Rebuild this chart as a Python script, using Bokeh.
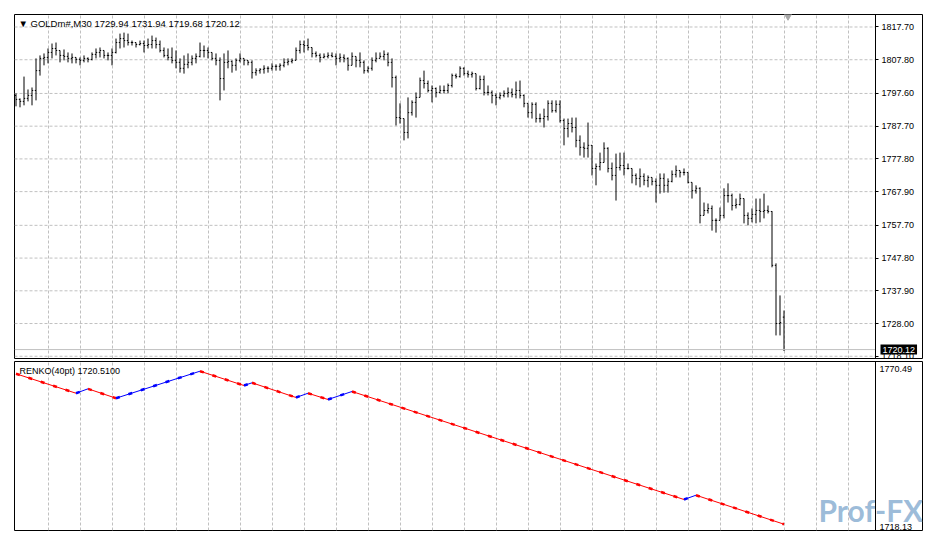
from bokeh.plotting import figure
from bokeh.layouts import column
from bokeh.models import FixedTicker, PrintfTickFormatter, Range1d, Label, ColumnDataSource
from bokeh.embed import file_html
from bokeh.resources import INLINE

symbol = "GOLDm#,M30"

opens = [
    1797.0, 1795.8, 1795.2, 1796.1, 1797.0, 1798.5, 1804.5, 1808.2, 1808.5, 1810.0,
    1811.2, 1810.6, 1809.1, 1808.8, 1808.2, 1808.5, 1807.9, 1807.6, 1808.2, 1807.9,
    1809.4, 1810.0, 1810.6, 1809.1, 1809.1, 1810.0, 1813.0, 1814.2, 1813.6, 1813.0,
    1813.0, 1812.4, 1812.7, 1812.1, 1812.4, 1813.6, 1812.4, 1810.6, 1809.1, 1808.5,
    1807.6, 1807.0, 1805.2, 1806.4, 1807.0, 1808.2, 1808.8, 1810.6, 1810.6, 1810.0,
    1808.2, 1807.6, 1802.1, 1807.0, 1807.3, 1806.1, 1807.6, 1808.2, 1807.6, 1807.0,
    1803.9, 1804.5, 1804.9, 1805.2, 1805.2, 1805.8, 1805.8, 1806.1, 1807.0, 1807.3,
    1807.6, 1810.6, 1812.4, 1812.1, 1811.5, 1809.7, 1809.1, 1808.5, 1808.8, 1809.1,
    1808.8, 1808.2, 1808.5, 1808.2, 1806.1, 1808.8, 1807.6, 1807.0, 1804.5, 1805.2,
    1807.6, 1808.2, 1808.8, 1809.4, 1807.0, 1802.4, 1790.3, 1790.0, 1785.8, 1791.8,
    1794.9, 1796.4, 1801.5, 1800.6, 1798.5, 1799.1, 1797.9, 1798.5, 1798.5, 1800.0,
    1803.0, 1802.7, 1805.2, 1803.6, 1803.3, 1803.6, 1799.1, 1801.8, 1797.9, 1797.9,
    1797.0, 1796.4, 1797.0, 1797.6, 1797.9, 1797.3, 1798.5, 1797.0, 1794.6, 1791.8,
    1794.3, 1790.0, 1790.0, 1790.6, 1794.6, 1792.4, 1794.3, 1789.4, 1787.0, 1788.5,
    1787.3, 1783.4, 1781.3, 1781.0, 1781.9, 1774.9, 1775.5, 1776.7, 1781.0, 1774.9,
    1772.8, 1775.2, 1775.8, 1774.9, 1774.9, 1772.8, 1771.9, 1772.5, 1771.3, 1772.2,
    1771.0, 1769.8, 1771.9, 1769.8, 1771.0, 1773.1, 1774.3, 1773.7, 1773.7, 1770.7,
    1768.2, 1768.9, 1760.7, 1762.2, 1762.8, 1759.2, 1759.2, 1760.7, 1766.7, 1766.7,
    1763.7, 1764.0, 1765.8, 1760.7, 1759.8, 1761.0, 1762.2, 1761.9, 1762.2, 1761.9,
    1745.6, 1728.0, 1729.94,
]

highs = [
    1797.6, 1796.1, 1802.7, 1798.8, 1799.4, 1808.2, 1809.1, 1809.7, 1811.2, 1812.7,
    1813.0, 1810.6, 1810.9, 1810.0, 1809.7, 1808.5, 1808.5, 1809.1, 1808.5, 1810.0,
    1811.2, 1811.5, 1810.6, 1810.0, 1811.2, 1814.2, 1815.7, 1816.0, 1815.7, 1813.6,
    1813.0, 1813.6, 1813.6, 1814.2, 1815.1, 1814.5, 1813.6, 1811.5, 1811.2, 1811.5,
    1810.6, 1808.2, 1809.1, 1809.7, 1809.1, 1809.7, 1813.0, 1812.1, 1811.5, 1810.0,
    1809.7, 1808.5, 1809.7, 1810.6, 1807.6, 1808.2, 1809.7, 1808.2, 1807.6, 1807.6,
    1805.2, 1805.2, 1806.1, 1805.8, 1806.7, 1806.4, 1806.7, 1808.2, 1808.2, 1808.2,
    1811.5, 1813.6, 1813.6, 1814.2, 1811.5, 1810.3, 1809.7, 1809.7, 1810.0, 1810.0,
    1809.7, 1809.7, 1809.4, 1808.5, 1810.0, 1808.8, 1810.0, 1807.6, 1805.8, 1808.5,
    1810.0, 1810.0, 1810.6, 1810.0, 1808.2, 1803.0, 1794.6, 1790.0, 1796.4, 1795.5,
    1797.9, 1802.4, 1804.5, 1801.5, 1800.0, 1799.4, 1800.0, 1800.0, 1800.6, 1803.6,
    1803.6, 1805.8, 1805.5, 1804.5, 1804.2, 1803.6, 1803.0, 1803.0, 1800.0, 1798.5,
    1797.6, 1797.9, 1798.5, 1799.4, 1799.1, 1801.2, 1801.5, 1797.3, 1794.6, 1794.9,
    1794.9, 1791.5, 1793.0, 1795.5, 1795.5, 1795.5, 1795.5, 1790.0, 1790.0, 1790.3,
    1790.3, 1784.9, 1782.8, 1788.8, 1782.0, 1776.4, 1779.7, 1782.8, 1781.3, 1776.7,
    1779.4, 1779.7, 1779.7, 1776.4, 1774.9, 1773.4, 1774.9, 1773.4, 1772.8, 1772.2,
    1771.9, 1773.4, 1773.4, 1771.9, 1774.3, 1775.8, 1774.3, 1774.9, 1773.7, 1770.7,
    1769.8, 1769.2, 1764.6, 1764.3, 1763.7, 1759.8, 1763.1, 1768.9, 1770.4, 1767.3,
    1765.8, 1767.3, 1765.8, 1761.6, 1762.8, 1765.8, 1765.8, 1767.3, 1763.7, 1762.0,
    1746.2, 1736.5, 1731.94,
]

lows = [
    1793.7, 1793.4, 1794.0, 1795.2, 1794.0, 1795.5, 1803.0, 1806.1, 1806.7, 1808.2,
    1809.1, 1807.0, 1807.6, 1807.0, 1806.7, 1806.7, 1806.1, 1807.0, 1807.0, 1807.6,
    1808.2, 1808.5, 1808.2, 1807.6, 1806.1, 1809.7, 1811.2, 1811.5, 1812.1, 1812.1,
    1811.5, 1812.1, 1810.0, 1811.2, 1811.2, 1811.2, 1810.0, 1808.5, 1807.6, 1806.7,
    1805.2, 1803.9, 1803.6, 1805.2, 1806.1, 1806.7, 1808.5, 1808.5, 1808.2, 1807.6,
    1806.1, 1795.5, 1798.5, 1805.2, 1803.9, 1804.5, 1807.0, 1806.1, 1806.1, 1802.1,
    1803.0, 1803.6, 1803.6, 1803.9, 1804.5, 1804.5, 1804.5, 1805.5, 1806.1, 1806.7,
    1807.6, 1809.7, 1810.0, 1810.6, 1808.5, 1808.5, 1807.0, 1808.2, 1808.2, 1808.5,
    1806.1, 1807.0, 1807.0, 1804.5, 1806.1, 1805.5, 1805.5, 1803.6, 1803.9, 1804.5,
    1807.0, 1808.2, 1807.6, 1805.8, 1799.4, 1787.9, 1788.5, 1783.4, 1784.0, 1790.9,
    1790.3, 1796.4, 1799.1, 1797.9, 1794.9, 1796.4, 1797.6, 1797.6, 1797.6, 1799.4,
    1802.1, 1802.4, 1803.0, 1802.4, 1802.4, 1798.5, 1798.8, 1797.0, 1797.0, 1794.6,
    1794.0, 1795.8, 1796.4, 1796.4, 1796.4, 1796.1, 1796.1, 1793.4, 1790.3, 1790.0,
    1788.8, 1788.8, 1787.3, 1789.4, 1791.8, 1791.8, 1788.8, 1781.9, 1784.3, 1785.8,
    1781.3, 1778.8, 1778.2, 1778.2, 1772.8, 1769.8, 1774.3, 1776.7, 1773.7, 1771.3,
    1765.2, 1774.3, 1772.8, 1774.6, 1770.4, 1769.8, 1769.2, 1769.8, 1769.2, 1769.8,
    1764.6, 1767.3, 1767.6, 1767.6, 1770.7, 1772.2, 1772.2, 1772.8, 1770.4, 1765.8,
    1767.3, 1758.3, 1760.7, 1761.3, 1756.1, 1755.5, 1759.2, 1759.8, 1764.6, 1762.2,
    1762.8, 1763.7, 1758.3, 1757.7, 1758.6, 1758.3, 1758.6, 1759.8, 1761.3, 1745.0,
    1724.4, 1724.4, 1719.68,
]

closes = [
    1795.8, 1795.2, 1796.1, 1797.0, 1798.5, 1804.5, 1808.2, 1808.5, 1810.0, 1811.2,
    1810.6, 1809.1, 1808.8, 1808.2, 1808.5, 1807.9, 1807.6, 1808.2, 1807.9, 1809.4,
    1810.0, 1810.6, 1809.1, 1809.1, 1810.0, 1813.0, 1814.2, 1813.6, 1813.0, 1813.0,
    1812.4, 1812.7, 1812.1, 1812.4, 1813.6, 1812.4, 1810.6, 1809.1, 1808.5, 1807.6,
    1807.0, 1805.2, 1806.4, 1807.0, 1808.2, 1808.8, 1810.6, 1810.6, 1810.0, 1808.2,
    1807.6, 1802.1, 1807.0, 1807.3, 1806.1, 1807.6, 1808.2, 1807.6, 1807.0, 1803.9,
    1804.5, 1804.9, 1805.2, 1805.2, 1805.8, 1805.8, 1806.1, 1807.0, 1807.3, 1807.6,
    1810.6, 1812.4, 1812.1, 1811.5, 1809.7, 1809.1, 1808.5, 1808.8, 1809.1, 1808.8,
    1808.2, 1808.5, 1808.2, 1806.1, 1808.8, 1807.6, 1807.0, 1804.5, 1805.2, 1807.6,
    1808.2, 1808.8, 1809.4, 1807.0, 1802.4, 1790.3, 1790.0, 1785.8, 1791.8, 1794.9,
    1796.4, 1801.5, 1800.6, 1798.5, 1799.1, 1797.9, 1798.5, 1798.5, 1800.0, 1803.0,
    1802.7, 1805.2, 1803.6, 1803.3, 1803.6, 1799.1, 1801.8, 1797.9, 1797.9, 1797.0,
    1796.4, 1797.0, 1797.6, 1797.9, 1797.3, 1798.5, 1797.0, 1794.6, 1791.8, 1794.3,
    1790.0, 1790.0, 1790.6, 1794.6, 1792.4, 1794.3, 1789.4, 1787.0, 1788.5, 1787.3,
    1783.4, 1781.3, 1781.0, 1781.9, 1774.9, 1775.5, 1776.7, 1781.0, 1774.9, 1772.8,
    1775.2, 1775.8, 1774.9, 1774.9, 1772.8, 1771.9, 1772.5, 1771.3, 1772.2, 1771.0,
    1769.8, 1771.9, 1769.8, 1771.0, 1773.1, 1774.3, 1773.7, 1773.7, 1770.7, 1768.2,
    1768.9, 1760.7, 1762.2, 1762.8, 1759.2, 1759.2, 1760.7, 1766.7, 1766.7, 1763.7,
    1764.0, 1765.8, 1760.7, 1759.8, 1761.0, 1762.2, 1761.9, 1762.2, 1761.9, 1745.6,
    1728.0, 1728.3, 1720.12,
]

price_ticks = [1817.70, 1807.80, 1797.60, 1787.70, 1777.80, 1767.90,
               1757.70, 1747.80, 1737.90, 1728.00, 1718.10]

renko_brick = "40pt"
renko_current = 1720.51
renko_ticks = [1770.49, 1718.13]
renko_idx = [0, 15, 18, 25, 46, 57, 59, 70, 73, 78, 84, 167, 170, 192]
renko_val = [1768.84, 1762.41, 1763.87, 1760.76, 1769.70, 1764.96, 1765.86,
             1760.99, 1762.41, 1760.33, 1762.98, 1727.23, 1728.65, 1719.05]

watermark = "Prof-FX"

# ---------------------------------------------------------------- layout
FONT = "Liberation Sans"
FS = "9px"
GRID_COLOR = "#c0c0c0"
GRID_DASH = "3 2"
n = len(closes)
idx = list(range(n))
vgrid = list(range(8, 215, 8))

# the frame spans the chart and its price scale; the scale starts at x = SCALE_X
SCALE_X = 214.875
xr = Range1d(-0.375, 226.625)
yr1 = Range1d(1717.42, 1821.48)
yr2 = Range1d(1716.97, 1772.91)

common = dict(width=934, output_backend="svg", toolbar_location=None, title=None,
              x_axis_location=None, y_axis_location="right",
              min_border_left=14, min_border_right=12,
              background_fill_color="white", border_fill_color="white",
              outline_line_color="black", outline_line_width=1, x_range=xr)

p1 = figure(height=360, y_range=yr1, min_border_top=14, min_border_bottom=2, **common)
p2 = figure(height=180, y_range=yr2, min_border_top=1, min_border_bottom=10, **common)

for p in (p1, p2):
    p.xgrid.ticker = FixedTicker(ticks=vgrid)
    p.xgrid.grid_line_color = GRID_COLOR
    p.xgrid.grid_line_dash = GRID_DASH
    p.ygrid.visible = False
    p.yaxis.fixed_location = SCALE_X
    p.yaxis.formatter = PrintfTickFormatter(format="%.2f")
    p.yaxis.minor_tick_line_color = None
    p.yaxis.major_tick_in = 0
    p.yaxis.axis_line_color = "black"
    p.yaxis.major_label_text_font = FONT
    p.yaxis.major_label_text_font_size = FS
    p.yaxis.major_label_text_color = "black"

p1.yaxis.ticker = FixedTicker(ticks=price_ticks)
p1.yaxis.major_tick_out = 3
p1.yaxis.major_label_standoff = 3

p2.yaxis.ticker = FixedTicker(ticks=renko_ticks)
p2.yaxis.major_tick_out = 0
p2.yaxis.major_tick_line_color = None
p2.yaxis.major_label_standoff = 4

# horizontal grid of the price chart, stopping at the price scale
m = len(price_ticks)
p1.segment(x0=[xr.start] * m, y0=price_ticks, x1=[SCALE_X] * m, y1=price_ticks,
           line_color=GRID_COLOR, line_dash=GRID_DASH, line_width=1)

# ---------------------------------------------------------------- OHLC bars
src = ColumnDataSource(dict(
    x=idx, xl=[i - 0.3 for i in idx], xr=[i + 0.3 for i in idx],
    o=opens, h=highs, l=lows, c=closes))
p1.segment(x0="x", y0="l", x1="x", y1="h", source=src, line_color="black", line_width=1)
p1.segment(x0="xl", y0="o", x1="x", y1="o", source=src, line_color="black", line_width=1)
p1.segment(x0="x", y0="c", x1="xr", y1="c", source=src, line_color="black", line_width=1)

# bid line and shift marker
p1.segment(x0=[xr.start], y0=[closes[-1]], x1=[SCALE_X], y1=[closes[-1]],
           line_color="#c0c0c0", line_width=1)
p1.scatter(x=[n], y=[yr1.end], marker="inverted_triangle", size=10,
           fill_color="#a8a8a8", line_color="#a8a8a8")

p1.add_layout(Label(x=4, x_units="screen", y=yr1.end, y_units="data", y_offset=-8.5,
                    text=f"\u25bc {symbol}  {opens[-1]:.2f} {highs[-1]:.2f} {lows[-1]:.2f} {closes[-1]:.2f}",
                    text_font=FONT, text_font_size="9.5px", text_color="black",
                    text_baseline="middle"))
p1.add_layout(Label(x=866, x_units="screen", y=closes[-1], y_units="data",
                    text=f"{closes[-1]:.2f}", text_font=FONT, text_font_size=FS,
                    text_color="white", text_baseline="middle",
                    background_fill_color="black", padding=2))

# ---------------------------------------------------------------- Renko
rx0, rx1 = renko_idx[:-1], renko_idx[1:]
ry0, ry1 = renko_val[:-1], renko_val[1:]
rcol = ["#ff0000" if b < a else "#0000ff" for a, b in zip(ry0, ry1)]
rsrc = ColumnDataSource(dict(x0=rx0, x1=rx1, y0=ry0, y1=ry1, col=rcol))
p2.segment(x0="x0", y0="y0", x1="x1", y1="y1", source=rsrc, line_color="col", line_width=1)
p2.segment(x0="x0", y0="y0", x1="x1", y1="y1", source=rsrc, line_color="col",
           line_width=2.5, line_dash="4 9")

p2.add_layout(Label(x=5, x_units="screen", y=yr2.end, y_units="data", y_offset=-9.3,
                    text=f"RENKO({renko_brick}) {renko_current:.4f}",
                    text_font=FONT, text_font_size=FS, text_color="black",
                    text_baseline="middle"))
p2.add_layout(Label(x=804, x_units="screen", y=yr2.start, y_units="data", y_offset=3,
                    text=watermark, text_font="Lato", text_font_style="bold",
                    text_font_size="30px", text_color="#5a8fc0", text_alpha=0.6,
                    text_baseline="bottom", level="underlay"))

layout = column(p1, p2, spacing=0)
open("out.html", "w").write(file_html(layout, INLINE))
